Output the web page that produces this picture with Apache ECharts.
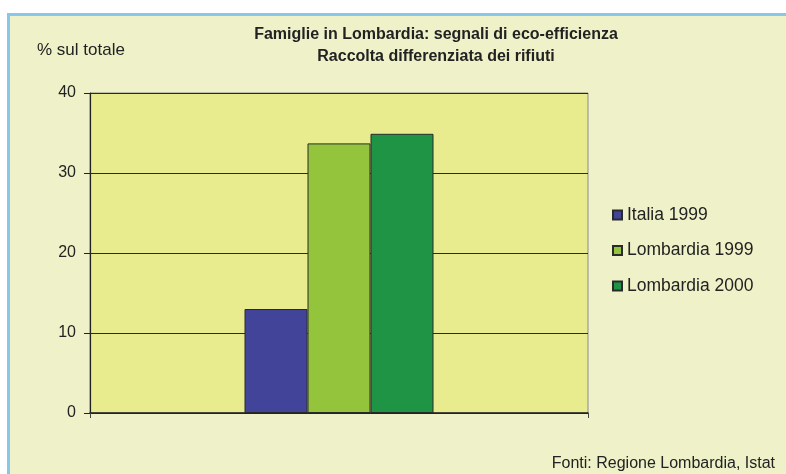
<!DOCTYPE html>
<html>
<head>
<meta charset="utf-8">
<script src="https://cdn.jsdelivr.net/npm/echarts@6/dist/echarts.min.js"></script>
<style>
  html, body { margin: 0; padding: 0; background: #fff; }
  #chart { width: 786px; height: 474px; }
</style>
</head>
<body>
<div id="chart"></div>
<script>
// dati
const categories = [""];
const seriesNames = ["Italia 1999", "Lombardia 1999", "Lombardia 2000"];
const italia1999 = [13];
const lombardia1999 = [33.7];
const lombardia2000 = [34.9];
const yTicks = { min: 0, max: 40, interval: 10 };

const colors = ["#42449a", "#93c43c", "#1f9444"];
const font = "'Liberation Sans', Arial, sans-serif";

const chart = echarts.init(document.getElementById("chart"));

const makeSeries = (name, data, i) => ({
  name: name,
  type: "bar",
  data: data,
  barWidth: 63,
  barGap: "0%",
  itemStyle: { color: colors[i], borderColor: "#2a2a2a", borderWidth: 1 },
});

chart.setOption({
  animation: false,
  textStyle: { fontFamily: font },
  graphic: [
    // pannello di sfondo con bordo azzurro
    { type: "rect", z: -10, shape: { x: 7, y: 13, width: 800, height: 480 },
      style: { fill: "#eff2c8" } },
    { type: "rect", z: -9, shape: { x: 7, y: 13, width: 800, height: 3 },
      style: { fill: "#86c7ea" } },
    { type: "rect", z: -9, shape: { x: 7, y: 13, width: 3, height: 480 },
      style: { fill: "#86c7ea" } },
    { type: "text", left: 37, top: 42,
      style: { text: "% sul totale", fontSize: 17, fill: "#222", fontFamily: font } },
    { type: "text", right: 11, top: 456,
      style: { text: "Fonti: Regione Lombardia, Istat", fontSize: 16, fill: "#222", fontFamily: font } },
  ],
  title: {
    text: "Famiglie in Lombardia: segnali di eco-efficienza\nRaccolta differenziata dei rifiuti",
    left: 431,
    top: 19,
    textAlign: "center",
    textStyle: { fontSize: 16, fontWeight: "bold", color: "#222", lineHeight: 22, fontFamily: font, align: "center" },
  },
  legend: {
    orient: "vertical",
    left: 607,
    top: 201,
    icon: "rect",
    itemWidth: 9,
    itemHeight: 9,
    itemGap: 17.5,
    data: seriesNames,
    textStyle: { fontSize: 17.5, color: "#222", lineHeight: 17, fontFamily: font },
  },
  grid: {
    left: 90, top: 93, width: 498, height: 320,
    show: true,
    backgroundColor: "#e8eb8e",
    borderColor: "#8a8a8a",
    borderWidth: 1,
  },
  xAxis: {
    type: "category",
    data: categories,
    axisLine: { lineStyle: { color: "#222", width: 1.5 } },
    axisTick: { show: true, length: 5, lineStyle: { color: "#444" } },
    axisLabel: { show: false },
  },
  yAxis: {
    type: "value",
    min: yTicks.min,
    max: yTicks.max,
    interval: yTicks.interval,
    axisLine: { show: true, lineStyle: { color: "#222", width: 1.2 } },
    axisTick: { show: true, length: 6, lineStyle: { color: "#222" } },
    axisLabel: { fontSize: 16, color: "#222", margin: 14, fontFamily: font },
    splitLine: { lineStyle: { color: "#2a2a2a", width: 1.2 } },
  },
  series: [
    makeSeries(seriesNames[0], italia1999, 0),
    makeSeries(seriesNames[1], lombardia1999, 1),
    makeSeries(seriesNames[2], lombardia2000, 2),
  ],
});
</script>
</body>
</html>
